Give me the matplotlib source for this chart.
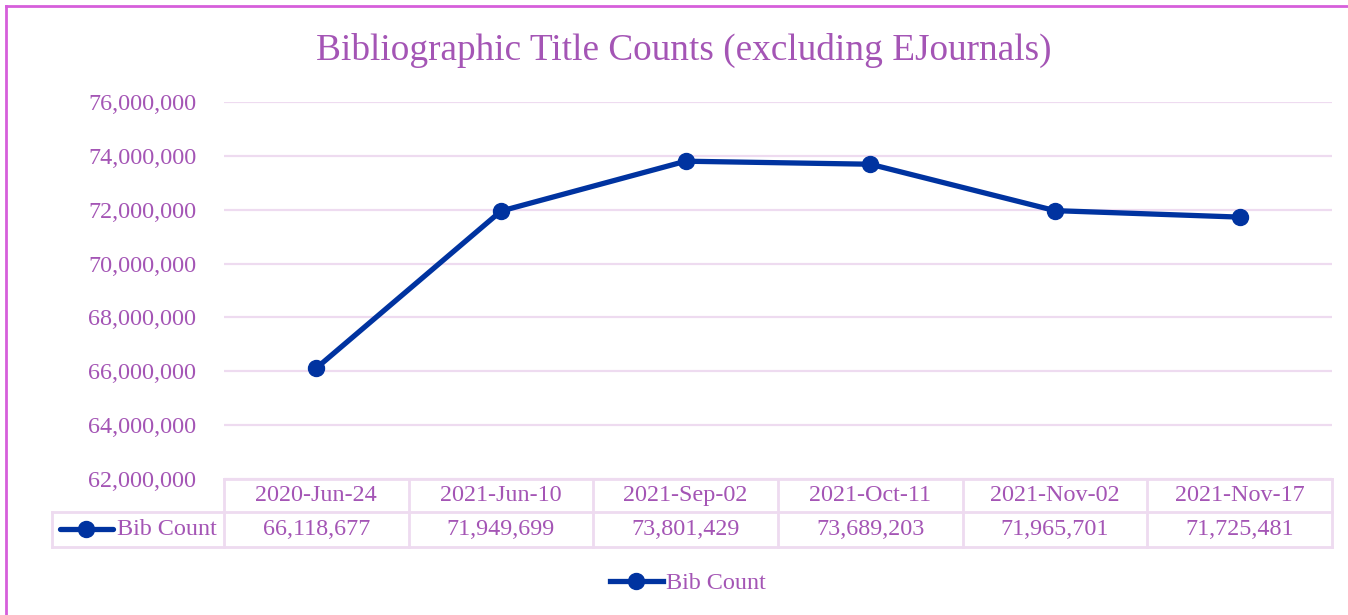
import matplotlib.pyplot as plt
from matplotlib.lines import Line2D
from matplotlib.ticker import FuncFormatter

plt.rcParams['font.family'] = ['Liberation Serif', 'DejaVu Serif']

dates = ['2020-Jun-24', '2021-Jun-10', '2021-Sep-02', '2021-Oct-11', '2021-Nov-02', '2021-Nov-17']
bib_count = [66118677, 71949699, 73801429, 73689203, 71965701, 71725481]
series_name = 'Bib Count'
title = 'Bibliographic Title Counts (excluding EJournals)'

txt = '#A455B5'
grid_c = '#EEDBF0'
line_c = '#0033A0'
fs = 17.4

fig = plt.figure(figsize=(13.48, 6.15), dpi=100)
ax = fig.add_axes([224 / 1348, 1 - 479 / 615, 1108 / 1348, 377 / 615])

x = list(range(len(dates)))
ax.plot(x, bib_count, color=line_c, lw=3.8, marker='o', ms=11.5, solid_capstyle='round', zorder=3)
ax.set_xlim(-0.5, len(dates) - 0.5)
ax.set_ylim(62_000_000, 76_000_000)
ax.set_yticks(range(62_000_000, 76_000_001, 2_000_000))
ax.yaxis.set_major_formatter(FuncFormatter(lambda v, p: f'{int(v):,}'))
ax.tick_params(axis='y', length=0, pad=20, labelsize=fs, labelcolor=txt)
ax.set_xticks([])
ax.grid(axis='y', color=grid_c, lw=1.6)
ax.set_axisbelow(True)
for s in ax.spines.values():
    s.set_visible(False)

# data table under the axis
tr = ax.get_xaxis_transform()
h1, h2 = -33 / 377, -68 / 377
x0, x1 = -0.5, len(dates) - 0.5
xl = -0.5 - 172 / (1108 / len(dates))
kw = dict(color=grid_c, lw=2, transform=tr, clip_on=False)
ax.plot([x0, x1], [0, 0], **kw)
ax.plot([xl, x1], [h1, h1], **kw)
ax.plot([xl, x1], [h2, h2], **kw)
ax.plot([xl, xl], [h1, h2], **kw)
for b in range(len(dates) + 1):
    ax.plot([b - 0.5, b - 0.5], [0, h2], **kw)
for i, (d, v) in enumerate(zip(dates, bib_count)):
    ax.text(i, h1 / 2, d, transform=tr, ha='center', va='center', fontsize=fs, color=txt)
    ax.text(i, (h1 + h2) / 2, f'{v:,}', transform=tr, ha='center', va='center', fontsize=fs, color=txt)
ax.text(-0.5 - 7 / (1108 / len(dates)), (h1 + h2) / 2, series_name, transform=tr,
        ha='right', va='center', fontsize=fs, color=txt)
ky = 1 - 529 / 615
fig.add_artist(Line2D([60 / 1348, 113 / 1348], [ky, ky], color=line_c, lw=3.8, solid_capstyle='round'))
fig.add_artist(Line2D([86 / 1348], [ky], color=line_c, marker='o', ms=11.5))

fig.text(684 / 1348, 1 - 50 / 615, title, ha='center', va='center', fontsize=26.8, color=txt)

leg_h = [Line2D([0], [0], color=line_c, lw=3.8, marker='o', ms=11.5)]
fig.legend(leg_h, [series_name], loc='center', bbox_to_anchor=(688 / 1348, 1 - 583 / 615),
           frameon=False, fontsize=fs, labelcolor=txt, handlelength=2.2, handletextpad=0.15)

# outer chart border (top and left visible)
bc = '#D65FDB'
fig.add_artist(Line2D([6 / 1348, 1], [1 - 6 / 615, 1 - 6 / 615], color=bc, lw=2))
fig.add_artist(Line2D([6 / 1348, 6 / 1348], [0, 1 - 6 / 615], color=bc, lw=2))

fig.savefig('out.png', dpi=100)
